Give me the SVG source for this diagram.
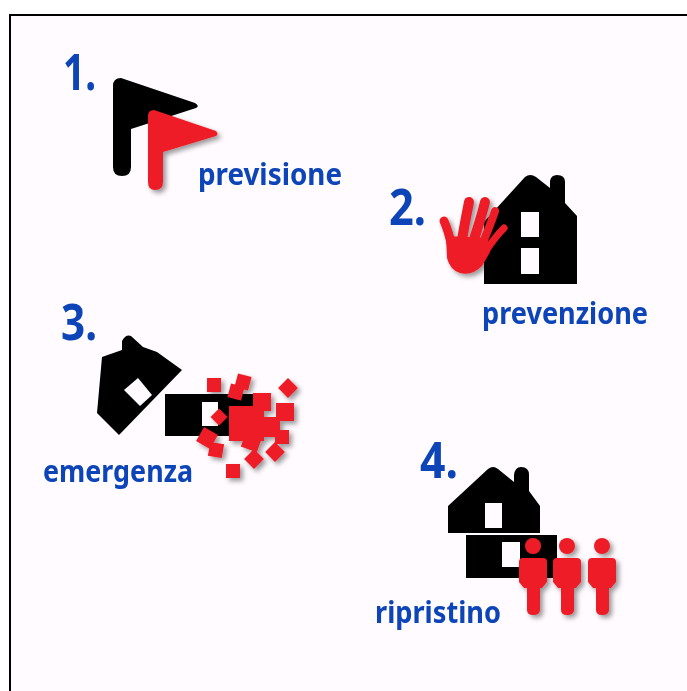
<svg xmlns="http://www.w3.org/2000/svg" width="687" height="691" viewBox="0 0 687 691">
<style>
.b{fill:#000}
.w{fill:#fffbff}
.r{fill:#ee1c25}
.t{fill:#0b45b8;font-family:"Noto Sans","Open Sans",sans-serif;font-weight:700}
.n{font-size:50px}
.l{font-size:31px}
.f{fill:none;stroke:#ee1c25;stroke-linecap:round;stroke-linejoin:round}
</style>
<defs>
<filter id="s" x="-20%" y="-20%" width="150%" height="150%"><feDropShadow dx="3" dy="3" stdDeviation="2.5" flood-color="#000" flood-opacity="0.4"/></filter>
<filter id="soft" x="-5%" y="-5%" width="110%" height="110%"><feGaussianBlur stdDeviation="0.5"/></filter>
<g id="person"><circle cx="14" cy="-12" r="8"/><path d="M4 0H24Q28 0 28 4V24L23 30H21V52Q21 57 14 57Q8 57 8 52V30H5L0 24V4Q0 0 4 0Z"/></g>
</defs>
<rect width="687" height="691" fill="#fff"/>
<rect x="10" y="15" width="677" height="676" fill="#fffbff"/>
<path d="M10 691V15H687" fill="none" stroke="#000" stroke-width="2"/>
<g id="connectors"/>
<g id="node-1" filter="url(#soft)">
<text class="t n" x="63" y="90" textLength="33" lengthAdjust="spacingAndGlyphs">1.</text>
<path class="b" d="M113 86Q113 78 121 78L195 103Q200 106 196 108L131 129V167Q131 176 122 176Q113 176 113 167Z"/>
<path class="r" filter="url(#s)" d="M148 116Q148 110 154 110L216 131Q219 134 216 136L163 152V182Q163 190 155 190Q148 190 148 182Z"/>
<text class="t l" x="198" y="185" textLength="144" lengthAdjust="spacingAndGlyphs">previsione</text>
</g>
<g id="node-2" filter="url(#soft)">
<text class="t n" x="389" y="225" textLength="37" lengthAdjust="spacingAndGlyphs">2.</text>
<path class="b" d="M484 284V222L525 177Q530 173 536 177L550 188V181Q551 175 557 175Q565 175 565 182V203L577 216V284Z"/>
<rect class="w" x="521" y="212" width="18" height="25"/>
<rect class="w" x="521" y="248" width="18" height="26"/>
<g filter="url(#s)">
<path class="r" d="M446 236L488 238L490 252L482 266Q472 276 460 273Q450 270 447 258Z"/>
<path class="f" stroke-width="9" d="M444 221Q449 232 452 248"/>
<path class="f" stroke-width="10" d="M469 202Q465 222 461 245"/>
<path class="f" stroke-width="10" d="M485 202Q480 222 472 245"/>
<path class="f" stroke-width="8" d="M495 211Q490 226 481 247"/>
<path class="f" stroke-width="7" d="M504 228Q494 238 484 254"/>
</g>
<text class="t l" x="482" y="324" textLength="166" lengthAdjust="spacingAndGlyphs">prevenzione</text>
</g>
<g id="node-3" filter="url(#soft)">
<text class="t n" x="61" y="340" textLength="36" lengthAdjust="spacingAndGlyphs">3.</text>
<path class="b" d="M119 435L97 413L102 357L122 350V341Q126 334 131 336L143 347L157 352L182 370Z"/>
<path class="w" d="M138 378L152 395L140 406L124 390Z"/>
<rect class="b" x="165" y="394" width="88" height="42"/>
<rect class="w" x="202" y="402" width="16" height="24"/>
<rect class="w" x="231" y="448" width="13" height="13" transform="rotate(20 237 454)"/>
<g class="r" filter="url(#s)">
<rect x="207" y="378" width="14" height="14"/>
<rect x="236" y="375" width="14" height="14" transform="rotate(15 243 382)"/>
<rect x="229" y="385" width="14" height="14" transform="rotate(15 236 392)"/>
<rect x="253" y="393" width="18" height="18"/>
<rect x="281" y="381" width="14" height="14" transform="rotate(45 288 388)"/>
<rect x="276" y="403" width="18" height="18"/>
<rect x="229" y="406" width="35" height="35"/>
<rect x="258" y="417" width="22" height="20"/>
<rect x="275" y="430" width="14" height="14"/>
<rect x="268" y="445" width="14" height="14" transform="rotate(45 275 452)"/>
<rect x="247" y="452" width="14" height="14" transform="rotate(45 254 459)"/>
<rect x="226" y="464" width="14" height="14"/>
<rect x="209" y="443" width="14" height="14" transform="rotate(10 216 450)"/>
<rect x="199" y="430" width="16" height="16" transform="rotate(30 207 438)"/>
<rect x="213" y="411" width="12" height="12" transform="rotate(45 219 417)"/>
<rect x="243" y="433" width="17" height="17" transform="rotate(20 252 442)"/>
</g>
<text class="t l" x="43" y="482" textLength="150" lengthAdjust="spacingAndGlyphs">emergenza</text>
</g>
<g id="node-4" filter="url(#soft)">
<text class="t n" x="420" y="478" textLength="38" lengthAdjust="spacingAndGlyphs">4.</text>
<path class="b" d="M448 533V506L488 469Q493 465 498 469L514 482V475Q515 467 521 467Q529 467 529 475V491L540 506V533Z"/>
<rect class="w" x="485" y="503" width="17" height="25"/>
<rect class="b" x="466" y="535" width="91" height="43"/>
<rect class="w" x="502" y="542" width="18" height="25"/>
<g class="r" filter="url(#s)">
<use href="#person" x="519" y="558"/>
<use href="#person" x="553" y="558"/>
<use href="#person" x="588" y="558"/>
</g>
<text class="t l" x="375" y="623" textLength="126" lengthAdjust="spacingAndGlyphs">ripristino</text>
</g>
</svg>
